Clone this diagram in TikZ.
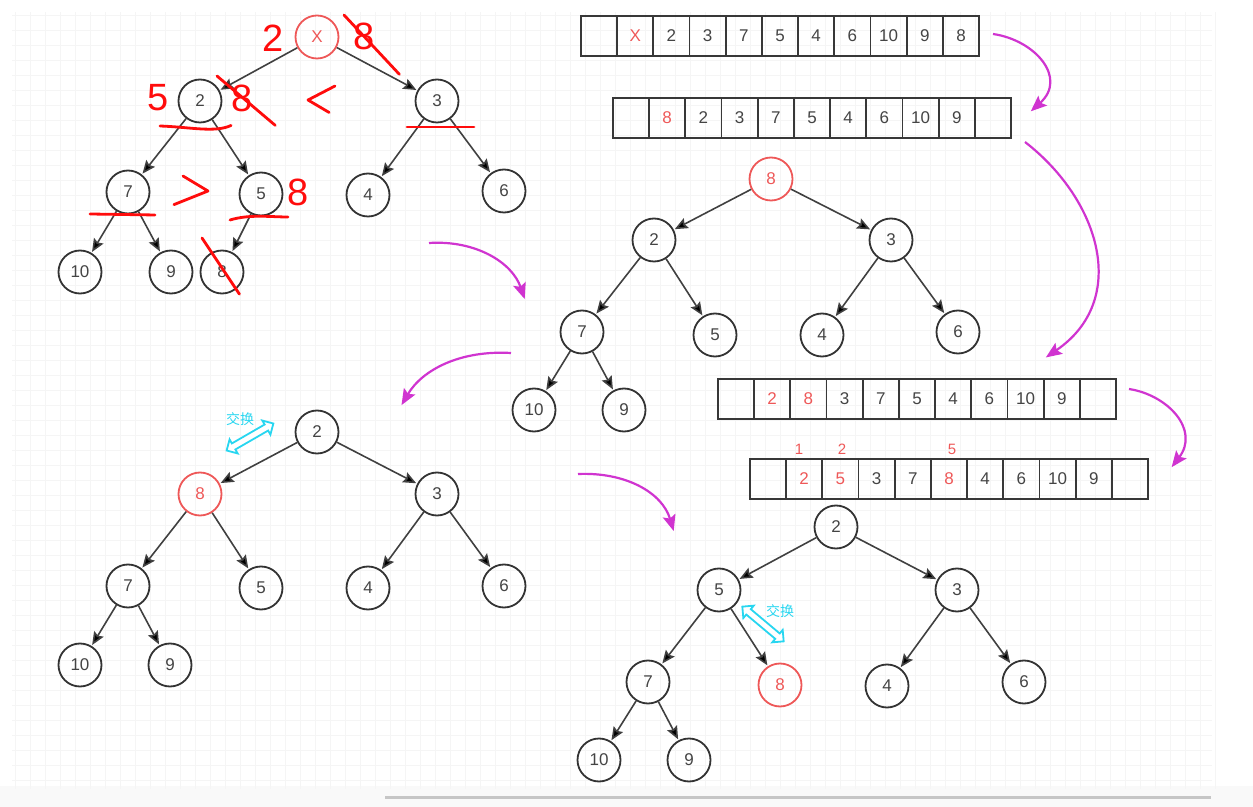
\documentclass[tikz,border=0pt]{standalone}
\usepackage{fontspec}
\setmainfont{Liberation Sans}
\newfontfamily\cjk{Noto Sans CJK SC}
\usetikzlibrary{arrows.meta,shapes.arrows}

\definecolor{nodered}{RGB}{238,88,88}
\definecolor{penred}{RGB}{255,12,12}
\definecolor{hintpink}{RGB}{208,52,208}
\definecolor{swapcyan}{RGB}{40,214,240}
\definecolor{digitgray}{RGB}{68,68,68}

\begin{document}
\begin{tikzpicture}[x=0.5pt,y=-0.5pt,->,>={Stealth[length=6.5pt,width=5.5pt,inset=1pt]},
    shorten >=0.5pt,
    thick,heap node/.style={circle,draw=black!80,line width=0.9pt,
      minimum size=21.5pt,inner sep=0pt,text=digitgray,
      font=\fontsize{8.5}{10}\selectfont},
    hot node/.style={heap node,draw=nodered,text=nodered},
    cell node/.style={rectangle,draw=black!78,line width=0.9pt,
      minimum width=18.1pt,minimum height=20pt,inner sep=0pt,
      text=digitgray,font=\fontsize{8.5}{10}\selectfont},
    pen/.style={-,draw=penred,line width=1.4pt,line cap=round,line join=round},
    pen text/.style={text=penred,font=\fontsize{19}{21}\selectfont},
    hint arrow/.style={draw=hintpink,line width=1.1pt,
      -{Stealth[length=8pt,width=6.5pt,inset=1.5pt]}},
    swap arrow/.style={-,double arrow,draw=swapcyan,fill=white,line width=0.9pt,
      minimum height=27pt,double arrow head extend=2.3pt,
      inner xsep=0pt,inner ysep=1.3pt},
    swap text/.style={text=swapcyan,font=\cjk\fontsize{7}{8}\selectfont}]

  \useasboundingbox (0,0) rectangle (1253,807);
  % grid paper
  \fill[gray!5] (0,786) rectangle (1253,807);
  \foreach \gx in {15,30,...,1215}
    \draw[-,gray!8,line width=0.4pt] (\gx,12) -- (\gx,790);
  \foreach \gy in {15,30,...,780}
    \draw[-,gray!8,line width=0.4pt] (12,\gy) -- (1213,\gy);
  \draw[-,gray!45,line width=1.5pt] (385,797) -- (1212,797);

  %% tree before sift-down, with pen notes
  \node[hot node] (aX) at (317,37) {X};
  \node[heap node] (a2) at (200,101) {2};
  \node[heap node] (a3) at (437,101) {3};
  \node[heap node] (a7) at (128,192) {7};
  \node[heap node] (a5) at (261,194) {5};
  \node[heap node] (a4) at (368,195) {4};
  \node[heap node] (a6) at (504,191) {6};
  \node[heap node] (a10) at (80,272) {10};
  \node[heap node] (a9) at (171,272) {9};
  \node[heap node] (a8) at (222,272) {8};

  \path[draw=black!75,line width=0.8pt]
    (aX) edge (a2) (aX) edge (a3)
    (a2) edge (a7) (a2) edge (a5)
    (a3) edge (a4) (a3) edge (a6)
    (a7) edge (a10) (a7) edge (a9)
    (a5) edge (a8);

  \node[pen text] (n2) at (273,38) {2};
  \node[pen text] (n8a) at (364,36) {8};
  \node[pen text] (n5) at (158,98) {5};
  \node[pen text] (n8b) at (242,98) {8};
  \node[pen text] (n8c) at (298,192) {8};
  \draw[pen] (344,15) -- (400,75);
  \draw[pen] (217,76) -- (276,126);
  \draw[pen] (335,86) -- (308,100) -- (330,113);
  \draw[pen] (160,126) .. controls (190,127) and (215,133) .. (232,125);
  \draw[pen] (407,127) -- (475,127);
  \draw[pen] (90,214) -- (156,215);
  \draw[pen] (183,176) -- (208,191) -- (173,205);
  \draw[pen] (230,220) .. controls (250,214) and (270,217) .. (289,217);
  \draw[pen] (202,238) -- (240,295);

  %% arrays
  \foreach \v/\c [count=\i from 0] in {{}/digitgray,X/nodered,2/digitgray,
      3/digitgray,7/digitgray,5/digitgray,4/digitgray,6/digitgray,
      10/digitgray,9/digitgray,8/digitgray}
    \node[cell node,text=\c] (ra\i) at (599+36.2*\i,36) {\v};
  \foreach \v/\c [count=\i from 0] in {{}/digitgray,8/nodered,2/digitgray,
      3/digitgray,7/digitgray,5/digitgray,4/digitgray,6/digitgray,
      10/digitgray,9/digitgray,{}/digitgray}
    \node[cell node,text=\c] (rb\i) at (631+36.2*\i,118) {\v};
  \foreach \v/\c [count=\i from 0] in {{}/digitgray,2/nodered,8/nodered,
      3/digitgray,7/digitgray,5/digitgray,4/digitgray,6/digitgray,
      10/digitgray,9/digitgray,{}/digitgray}
    \node[cell node,text=\c] (rc\i) at (736+36.2*\i,399) {\v};
  \foreach \v/\c [count=\i from 0] in {{}/digitgray,2/nodered,5/nodered,
      3/digitgray,7/digitgray,8/nodered,4/digitgray,6/digitgray,
      10/digitgray,9/digitgray,{}/digitgray}
    \node[cell node,text=\c] (rd\i) at (768+36.2*\i,479) {\v};

  \node[text=nodered,font=\fontsize{7.5}{9}\selectfont] (k1) at (799,449) {1};
  \node[text=nodered,font=\fontsize{7.5}{9}\selectfont] (k2) at (842,449) {2};
  \node[text=nodered,font=\fontsize{7.5}{9}\selectfont] (k5) at (952,449) {5};

  %% tree with 8 on top
  \node[hot node] (b8) at (771,179) {8};
  \node[heap node] (b2) at (654,240) {2};
  \node[heap node] (b3) at (891,240) {3};
  \node[heap node] (b7) at (582,332) {7};
  \node[heap node] (b5) at (715,335) {5};
  \node[heap node] (b4) at (822,335) {4};
  \node[heap node] (b6) at (958,332) {6};
  \node[heap node] (b10) at (534,410) {10};
  \node[heap node] (b9) at (624,410) {9};

  \path[draw=black!75,line width=0.8pt]
    (b8) edge (b2) (b8) edge (b3)
    (b2) edge (b7) (b2) edge (b5)
    (b3) edge (b4) (b3) edge (b6)
    (b7) edge (b10) (b7) edge (b9);

  %% first swap
  \node[heap node] (c2) at (317,432) {2};
  \node[hot node] (c8) at (200,494) {8};
  \node[heap node] (c3) at (437,494) {3};
  \node[heap node] (c7) at (128,586) {7};
  \node[heap node] (c5) at (261,588) {5};
  \node[heap node] (c4) at (368,588) {4};
  \node[heap node] (c6) at (504,586) {6};
  \node[heap node] (c10) at (80,665) {10};
  \node[heap node] (c9) at (170,665) {9};

  \path[draw=black!75,line width=0.8pt]
    (c2) edge (c8) (c2) edge (c3)
    (c8) edge (c7) (c8) edge (c5)
    (c3) edge (c4) (c3) edge (c6)
    (c7) edge (c10) (c7) edge (c9);

  \node[swap arrow,rotate=30] (sw1) at (250,437) {};
  \node[swap text] (sw1t) at (240,419) {交换};

  %% second swap
  \node[heap node] (d2) at (836,527) {2};
  \node[heap node] (d5) at (719,590) {5};
  \node[heap node] (d3) at (957,590) {3};
  \node[heap node] (d7) at (648,682) {7};
  \node[hot node] (d8) at (780,685) {8};
  \node[heap node] (d4) at (887,686) {4};
  \node[heap node] (d6) at (1024,682) {6};
  \node[heap node] (d10) at (599,760) {10};
  \node[heap node] (d9) at (689,760) {9};

  \path[draw=black!75,line width=0.8pt]
    (d2) edge (d5) (d2) edge (d3)
    (d5) edge (d7) (d5) edge (d8)
    (d3) edge (d4) (d3) edge (d6)
    (d7) edge (d10) (d7) edge (d9);

  \node[swap arrow,rotate=-40] (sw2) at (763,624) {};
  \node[swap text] (sw2t) at (780,611) {交换};

  %% steps
  \coordinate (h1s) at (993,34);   \coordinate (h1e) at (1030,112);
  \coordinate (h2s) at (1025,142); \coordinate (h2e) at (1045,358);
  \coordinate (h3s) at (429,243);  \coordinate (h3e) at (525,300);
  \coordinate (h4s) at (511,353);  \coordinate (h4e) at (401,406);
  \coordinate (h5s) at (1129,389); \coordinate (h5e) at (1171,468);
  \coordinate (h6s) at (578,474);  \coordinate (h6e) at (674,532);
  \draw[hint arrow] (h1s) .. controls (1035,40) and (1068,78) .. (h1e);
  \draw[hint arrow] (h2s) .. controls (1100,200) and (1130,300) .. (h2e);
  \draw[hint arrow] (h3s) .. controls (475,240) and (512,262) .. (h3e);
  \draw[hint arrow] (h4s) .. controls (460,350) and (422,370) .. (h4e);
  \draw[hint arrow] (h5s) .. controls (1168,395) and (1200,430) .. (h5e);
  \draw[hint arrow] (h6s) .. controls (625,472) and (662,492) .. (h6e);
\end{tikzpicture}
\end{document}
